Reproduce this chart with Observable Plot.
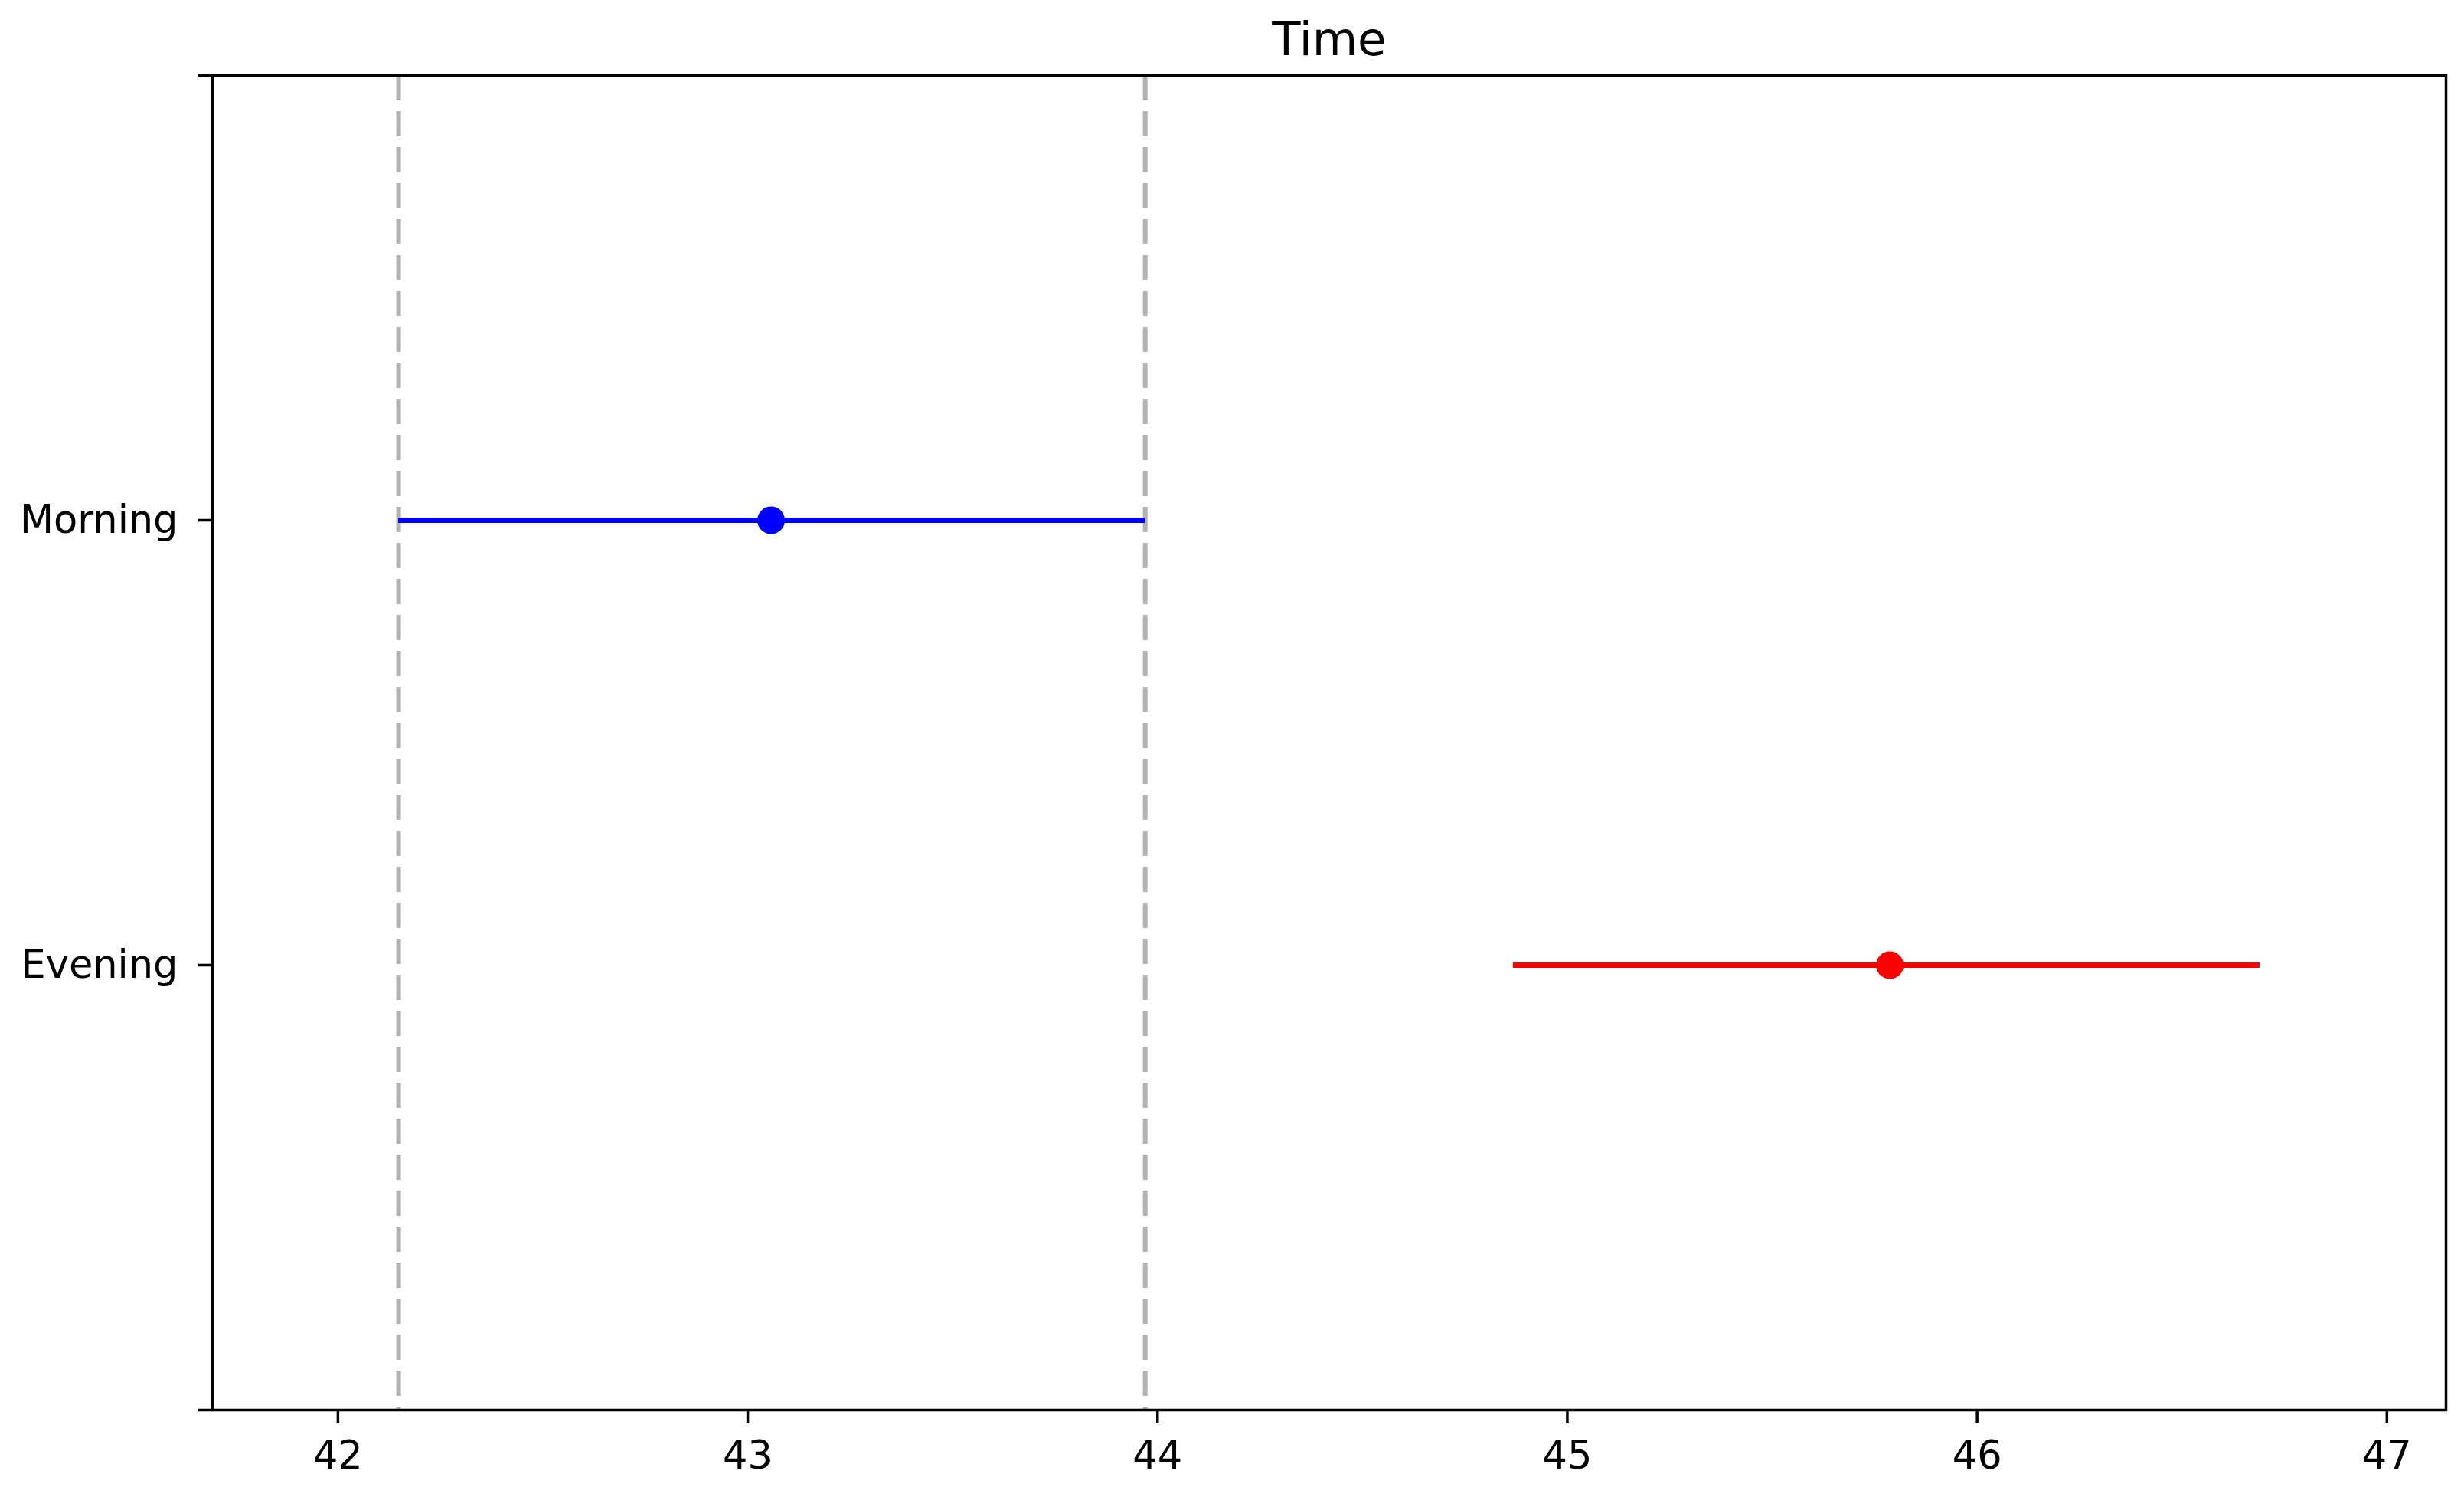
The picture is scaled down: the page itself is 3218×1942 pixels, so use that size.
<!DOCTYPE html>
<html>
<head>
<meta charset="utf-8">
<script src="https://cdn.jsdelivr.net/npm/d3@7"></script>
<script src="https://cdn.jsdelivr.net/npm/@observablehq/plot@0.6"></script>
<style>
  html, body { margin: 0; padding: 0; background: #ffffff; }
  #chart svg { display: block; }
</style>
</head>
<body>
<div id="chart"></div>
<script>
// Data
const groups = ["Morning", "Evening"];
const means = [43.057, 45.787];
const lower = [42.148, 44.868];
const upper = [43.970, 46.690];
const colors = ["#0000ff", "#ff0000"];
const xTicks = [42, 43, 44, 45, 46, 47];
const title = "Time";

const rows = groups.map((g, i) => ({group: g, mean: means[i], lo: lower[i], hi: upper[i], color: colors[i]}));

// x limits as in a simultaneous-interval plot: data range padded by a tenth of it
const lo = d3.min(lower), hi = d3.max(upper), r = hi - lo;
const xDomain = [lo - r / 10, hi + r / 10];
// y: one empty slot above and below the groups
const yDomain = [" ", ...groups, "  "];
// reference lines at the bounds of the first group's interval
const refLines = [lower[0], upper[0]];

const W = 3218, H = 1942;
const font = "DejaVu Sans, sans-serif";

const chart = Plot.plot({
  width: W,
  height: H,
  marginLeft: 277,
  marginRight: 24,
  marginTop: 98,
  marginBottom: 101,
  style: {fontFamily: font, fontSize: "51px", color: "#000", background: "#fff"},
  x: {domain: xDomain},
  y: {type: "point", domain: yDomain, padding: 0},
  color: {type: "identity"},
  marks: [
    Plot.ruleX(refLines, {x: d => d, stroke: "#b3b3b3", strokeWidth: 6, strokeDasharray: "33,14"}),
    Plot.ruleY(rows, {y: "group", x1: "lo", x2: "hi", stroke: "color", strokeWidth: 7}),
    Plot.dot(rows, {x: "mean", y: "group", fill: "color", stroke: null, r: 18}),
    Plot.axisX({ticks: xTicks, tickFormat: d => String(d), tickSize: 18, tickPadding: 22, strokeWidth: 3.5, fontSize: 51, label: null}),
    Plot.axisY({ticks: yDomain, tickFormat: d => d.trim(), tickSize: 18, tickPadding: 27, strokeWidth: 3.5, fontSize: 51, label: null}),
    Plot.frame({stroke: "#000", strokeWidth: 3.5}),
    Plot.text([title], {frameAnchor: "top", lineAnchor: "bottom", dy: -27, fontSize: 61, fill: "#000", text: d => d})
  ]
});
document.getElementById("chart").appendChild(chart);
</script>
</body>
</html>
